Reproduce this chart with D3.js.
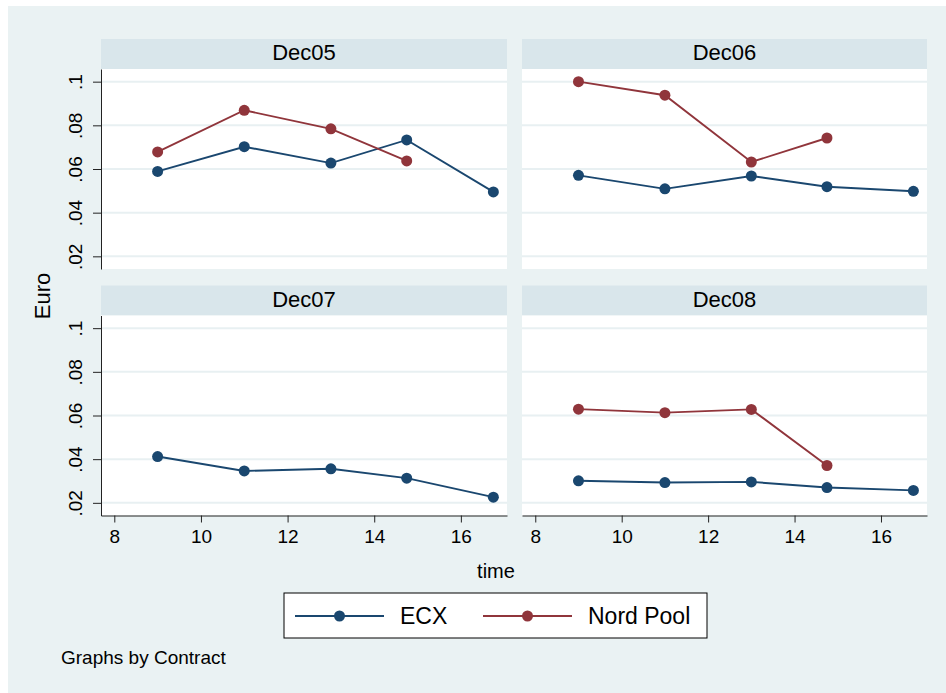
<!DOCTYPE html>
<html>
<head>
<meta charset="utf-8">
<script src="https://cdn.jsdelivr.net/npm/d3@7"></script>
<style>
  body { margin: 0; background: #fff; }
  text { font-family: "Liberation Sans", Arial, Helvetica, sans-serif; fill: #000; }
</style>
</head>
<body>
<div id="chart"></div>
<script>
// Data
const contracts = ["Dec05", "Dec06", "Dec07", "Dec08"];
const times = [9, 11, 13, 14.75, 16.75];
const seriesNames = ["ECX", "Nord Pool"];

// one array per contract, same order as `contracts`
const ecxValues = [
  [0.0589, 0.0702, 0.0627, 0.0733, 0.0495],
  [0.0571, 0.0509, 0.0568, 0.0519, 0.0498],
  [0.0412, 0.0346, 0.0356, 0.0313, 0.0226],
  [0.0301, 0.0293, 0.0296, 0.0270, 0.0257]
];
const nordPoolValues = [
  [0.0678, 0.0869, 0.0784, 0.0637],
  [0.1000, 0.0938, 0.0632, 0.0742],
  [],
  [0.0629, 0.0613, 0.0628, 0.0371]
];

const yTicks = [0.02, 0.04, 0.06, 0.08, 0.1];
const xTicks = [8, 10, 12, 14, 16];

// Layout
const W = 946, H = 693;
const colLeft = [101, 522], colRight = [507, 927];
const headerTop = [39, 285.5];
const headerH = 30;
const plotH = 200;

const navy = "#1a476f", maroon = "#90353b";
const bgColor = "#eaf2f3", stripColor = "#d9e6eb", gridColor = "#e8f0f2";

const svg = d3.select("#chart")
  .append("svg")
  .attr("width", W)
  .attr("height", H);

svg.append("rect")
  .attr("x", 8).attr("y", 6)
  .attr("width", W - 8).attr("height", H - 6)
  .attr("fill", bgColor);

const yFormat = d => d3.format(".2~f")(d).replace(/^0/, "");

contracts.forEach((name, i) => {
  const col = i % 2, row = Math.floor(i / 2);
  const left = colLeft[col], right = colRight[col];
  const top = headerTop[row] + headerH;
  const bottom = top + plotH;

  const x = d3.scaleLinear().domain([7.693, 17.065]).range([left, right]);
  const y = d3.scaleLinear().domain([0.0142, 0.1058]).range([bottom, top]);

  // strip header
  svg.append("rect")
    .attr("x", left).attr("y", headerTop[row])
    .attr("width", right - left).attr("height", headerH)
    .attr("fill", stripColor);
  svg.append("text")
    .attr("x", (left + right) / 2)
    .attr("y", headerTop[row] + 21)
    .attr("text-anchor", "middle")
    .attr("font-size", 22)
    .text(name);

  // plot area
  svg.append("rect")
    .attr("x", left).attr("y", top)
    .attr("width", right - left).attr("height", plotH)
    .attr("fill", "#fff");

  // gridlines
  svg.append("g")
    .selectAll("line")
    .data(yTicks)
    .enter()
    .append("line")
    .attr("x1", left).attr("x2", right)
    .attr("y1", d => y(d)).attr("y2", d => y(d))
    .attr("stroke", gridColor)
    .attr("stroke-width", 2);

  // y axis on left column only
  if (col === 0) {
    const yAxis = svg.append("g")
      .attr("transform", `translate(${left},0)`)
      .call(d3.axisLeft(y).tickValues(yTicks).tickFormat(yFormat).tickSize(8).tickSizeOuter(0));
    yAxis.select(".domain").attr("stroke", "#222");
    yAxis.selectAll(".tick line").attr("stroke", "#222");
    yAxis.selectAll(".tick text")
      .attr("font-size", 19)
      .attr("font-family", "Liberation Sans, Arial, sans-serif")
      .attr("fill", "#000")
      .attr("x", null).attr("dy", null)
      .attr("text-anchor", "middle")
      .attr("transform", "translate(-19.5,0) rotate(-90)");
  }

  // x axis on bottom row only
  if (row === 1) {
    const xAxis = svg.append("g")
      .attr("transform", `translate(0,${bottom})`)
      .call(d3.axisBottom(x).tickValues(xTicks).tickSize(7).tickSizeOuter(0));
    xAxis.select(".domain").attr("stroke", "#222");
    xAxis.selectAll(".tick line").attr("stroke", "#222");
    xAxis.selectAll(".tick text")
      .attr("font-size", 19)
      .attr("font-family", "Liberation Sans, Arial, sans-serif")
      .attr("fill", "#000")
      .attr("dy", null)
      .attr("y", 27);
  }

  // series
  const line = d3.line()
    .x(d => x(d[0]))
    .y(d => y(d[1]));

  [[ecxValues[i], navy], [nordPoolValues[i], maroon]].forEach(([vals, color]) => {
    const pts = vals.map((v, k) => [times[k], v]);
    if (!pts.length) return;
    svg.append("path")
      .datum(pts)
      .attr("fill", "none")
      .attr("stroke", color)
      .attr("stroke-width", 1.9)
      .attr("d", line);
    svg.append("g")
      .selectAll("circle")
      .data(pts)
      .enter()
      .append("circle")
      .attr("cx", d => x(d[0]))
      .attr("cy", d => y(d[1]))
      .attr("r", 5.5)
      .attr("fill", color);
  });
});

// axis titles
svg.append("text")
  .attr("transform", "translate(50,296) rotate(-90)")
  .attr("text-anchor", "middle")
  .attr("font-size", 22)
  .text("Euro");

svg.append("text")
  .attr("x", 496).attr("y", 578)
  .attr("text-anchor", "middle")
  .attr("font-size", 20)
  .text("time");

// legend
const legend = svg.append("g").attr("transform", "translate(284,593)");
legend.append("rect")
  .attr("width", 423).attr("height", 45)
  .attr("fill", "#fff")
  .attr("stroke", "#000")
  .attr("stroke-width", 1);

const legendX = [11, 199];
seriesNames.forEach((s, k) => {
  const color = k === 0 ? navy : maroon;
  const g = legend.append("g").attr("transform", `translate(${legendX[k]},23)`);
  g.append("line")
    .attr("x1", 0).attr("x2", 89)
    .attr("stroke", color).attr("stroke-width", 1.9);
  g.append("circle")
    .attr("cx", 44.5).attr("r", 5.5)
    .attr("fill", color);
  g.append("text")
    .attr("x", 105).attr("y", 8)
    .attr("font-size", 23)
    .text(s);
});

svg.append("text")
  .attr("x", 61).attr("y", 664)
  .attr("font-size", 19)
  .text("Graphs by Contract");
</script>
</body>
</html>
